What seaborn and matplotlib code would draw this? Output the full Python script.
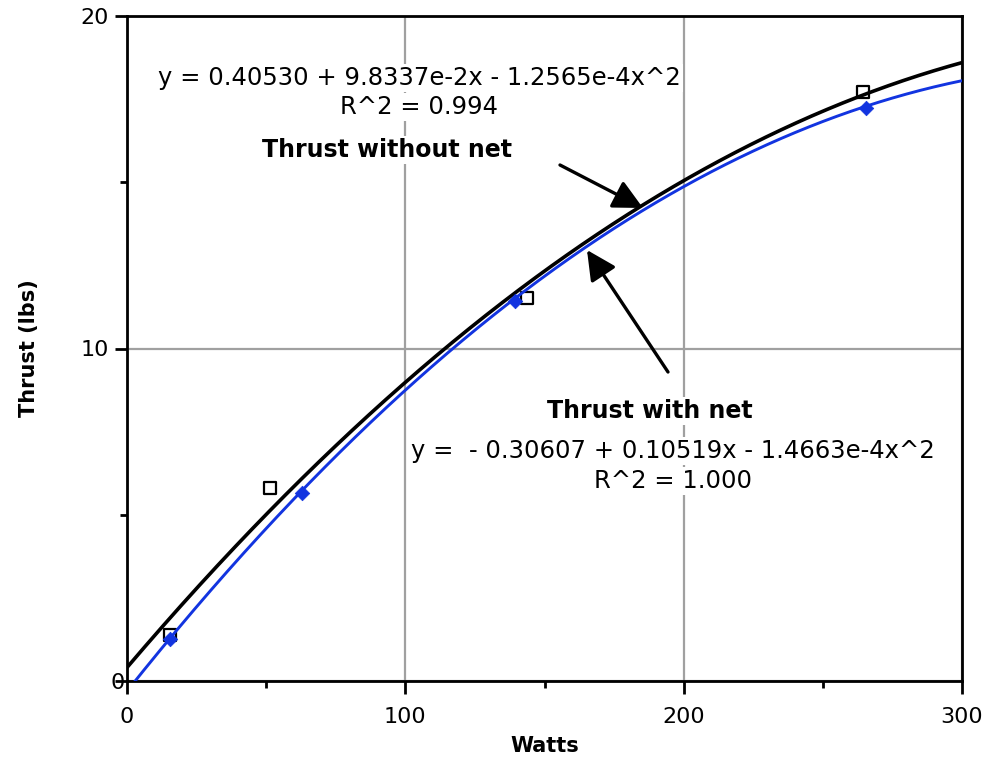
import numpy as np
import pandas as pd
import matplotlib
matplotlib.use("Agg")
import matplotlib.pyplot as plt
import seaborn as sns
from matplotlib.transforms import ScaledTranslation
from matplotlib.patches import FancyArrowPatch

# ---- data ----
watts_no_net = [15.6, 51.4, 143.7, 264.5]
thrust_no_net = [1.38, 5.80, 11.52, 17.71]
watts_net = [15.5, 62.9, 139.4, 265.5]
thrust_net = [1.26, 5.65, 11.43, 17.23]

coef_no_net = [0.40530, 9.8337e-2, -1.2565e-4]   # c0, c1, c2
coef_net = [-0.30607, 0.10519, -1.4663e-4]

eq_no_net = "y = 0.40530 + 9.8337e-2x - 1.2565e-4x^2"
r2_no_net = "R^2 = 0.994"
eq_net = "y =  - 0.30607 + 0.10519x - 1.4663e-4x^2"
r2_net = "R^2 = 1.000"
label_no_net = "Thrust without net"
label_net = "Thrust with net"

x_ticks = [0, 100, 200, 300]
y_ticks = [0, 10, 20]

sns.set_theme(style="white")
plt.rcParams['font.family'] = ['DejaVu Sans']
plt.rcParams['text.color'] = 'black'
plt.rcParams['axes.labelcolor'] = 'black'
plt.rcParams['xtick.color'] = 'black'
plt.rcParams['ytick.color'] = 'black'

fig = plt.figure(figsize=(9.91, 7.60), dpi=100)
ax = fig.add_axes([127/991, 1 - 681/760, (962-127)/991, (681-16)/760])

# fit curves from the printed coefficients
xs = np.linspace(0, 300, 601)
fit_df = pd.DataFrame({
    "Watts": np.concatenate([xs, xs]),
    "Thrust": np.concatenate([np.polyval(coef_no_net[::-1], xs),
                              np.polyval(coef_net[::-1], xs)]),
    "series": ["no_net"] * len(xs) + ["net"] * len(xs),
})
sns.lineplot(data=fit_df, x="Watts", y="Thrust", hue="series",
             palette={"no_net": "black", "net": "#1234e0"},
             ax=ax, legend=False, estimator=None, sort=False, zorder=3)
for ln, w in zip(ax.lines, [2.6, 2.1]):
    ln.set_linewidth(w)

sns.scatterplot(x=watts_no_net, y=thrust_no_net, marker="s", s=75,
                facecolor="white", edgecolor="black", linewidth=1.6,
                ax=ax, zorder=2)
sns.scatterplot(x=watts_net, y=thrust_net, marker="D", s=55,
                color="#1234e0", edgecolor="#1234e0", linewidth=0.5,
                ax=ax, zorder=4)

ax.set_xlim(0, 300)
ax.set_ylim(0, 20)
ax.set_xticks(x_ticks)
ax.set_yticks(y_ticks)
ax.set_xticks([50, 150, 250], minor=True)
ax.set_yticks([5, 15], minor=True)
ax.set_xticklabels([str(v) for v in x_ticks])
ax.set_yticklabels([str(v) for v in y_ticks])

ax.grid(True, which="major", color="#a0a0a0", linewidth=1.6)
ax.set_axisbelow(True)
for s in ax.spines.values():
    s.set_color("black")
    s.set_linewidth(2.0)
    s.set_visible(True)

ax.tick_params(axis="both", which="major", direction="out", length=9,
               width=2, color="black", labelcolor="black", labelsize=16, pad=4,
               bottom=True, left=True)
ax.tick_params(axis="both", which="minor", direction="out", length=5,
               width=2, color="black", bottom=True, left=True)
ax.tick_params(axis="x", which="major", pad=10)

# y "0" label drawn against the axis as in the reference
for lab in ax.get_yticklabels():
    if lab.get_text() == "0":
        lab.set_transform(lab.get_transform() +
                          ScaledTranslation(16/100, 0, fig.dpi_scale_trans))

ax.set_xlabel("Watts", fontsize=15, fontweight="bold", labelpad=6)
ax.set_ylabel("Thrust (lbs)", fontsize=15, fontweight="bold", labelpad=30)

box = dict(facecolor="white", edgecolor="none", pad=1.5)

def px(x, y):
    return ((x - 127) / (962 - 127) * 300, (681 - y) / (681 - 16) * 20)

ax.text(*px(419, 78), eq_no_net, ha="center", va="center", fontsize=17.5, bbox=box, zorder=6)
ax.text(*px(419, 107), r2_no_net, ha="center", va="center", fontsize=17.5, bbox=box, zorder=6)
ax.text(*px(387, 150), label_no_net, ha="center", va="center", fontsize=17,
        fontweight="bold", bbox=box, zorder=6)
ax.text(*px(650, 411), label_net, ha="center", va="center", fontsize=17,
        fontweight="bold", bbox=box, zorder=6)
ax.text(*px(673, 451), eq_net, ha="center", va="center", fontsize=17.5, bbox=box, zorder=6)
ax.text(*px(673, 481), r2_net, ha="center", va="center", fontsize=17.5, bbox=box, zorder=6)

for (x0, y0), (x1, y1) in [((560, 165), (643, 208)), ((668, 372), (587, 250))]:
    arr = FancyArrowPatch(px(x0, y0), px(x1, y1),
                          arrowstyle="-|>,head_length=18,head_width=9",
                          mutation_scale=1, linewidth=2.4, color="black",
                          zorder=7, shrinkA=0, shrinkB=0)
    ax.add_patch(arr)

fig.savefig("out.png", dpi=100)
